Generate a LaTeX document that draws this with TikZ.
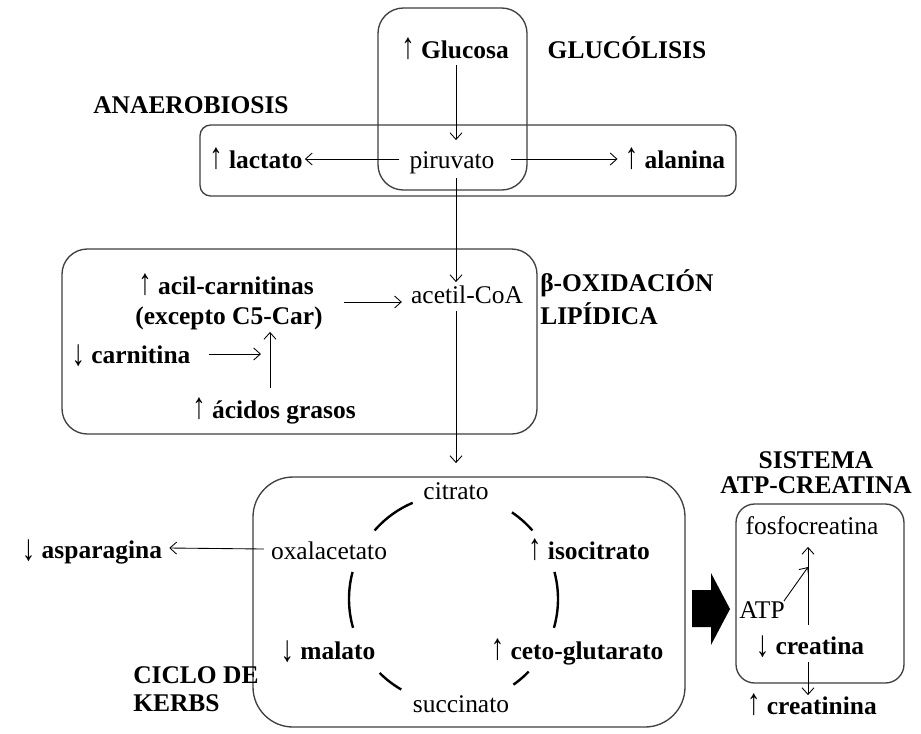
\documentclass[tikz,border=0pt]{standalone}
\usepackage{fontspec}
\usepackage{graphicx}
\setmainfont{Liberation Serif}
\usetikzlibrary{arrows.meta,calc}
\newcommand\upar{\scalebox{1.05}[1.45]{↑}}
\newcommand\dnar{\raisebox{-1.5pt}{\scalebox{1.05}[1.45]{↓}}}
\begin{document}
\begin{tikzpicture}[x=0.75pt,y=-0.75pt,
  every node/.style={font=\fontsize{19.1}{22}\selectfont, inner sep=0pt, text height=12.5pt, text depth=3.5pt},
  box/.style={draw=black!75, line width=1pt},
  arr/.style={draw=black, line width=0.65pt, -{Straight Barb[length=5pt,width=9pt]}},
  cyc/.style={line width=1.8pt},
]
\useasboundingbox[fill=white] (0,0) rectangle (921,733);

% boxes
\draw[box, rounded corners=19pt] (378,8) rectangle (527,190);
\draw[box, rounded corners=8pt] (200,125) rectangle (736,196);
\draw[box, rounded corners=19pt] (62,249) rectangle (537,434);
\draw[box, rounded corners=30pt] (253,477) rectangle (685,727);
\draw[box, rounded corners=14pt] (736,504) rectangle (904,683);

% labels
\node (glucolisis) at (627,52) {\textbf{GLUCÓLISIS}};
\node (anaerob) at (191,107) {\textbf{ANAEROBIOSIS}};
\node[anchor=west] (beta1) at (540,285) {\textbf{β-OXIDACIÓN}};
\node[anchor=west] (beta2) at (540,318) {\textbf{LIPÍDICA}};
\node[anchor=west] (ciclo1) at (133,677) {\textbf{CICLO DE}};
\node[anchor=west] (ciclo2) at (133,705) {\textbf{KERBS}};
\node (sistema) at (816,462) {\textbf{SISTEMA}};
\node (atpcre) at (816,487) {\textbf{ATP-CREATINA}};

% metabolites
\node (glucosa) at (455,52) {\upar\ \textbf{Glucosa}};
\node (piruvato) at (452,162) {piruvato};
\node (lactato) at (256,162) {\upar\ \textbf{lactato}};
\node (alanina) at (675,162) {\upar\ \textbf{alanina}};
\node (acetil) at (467,297) {acetil-CoA};
\node (acil) at (226,288) {\upar\ \textbf{acil-carnitinas}};
\node (excepto) at (229,318) {\textbf{(excepto C5-Car)}};
\node (carnitina) at (131,357) {\dnar\ \textbf{carnitina}};
\node (acidos) at (274,412) {\upar\ \textbf{ácidos grasos}};
\node[fill=white, inner xsep=15pt] (citrato) at (456,493) {citrato};
\node (oxal) at (329,553) {oxalacetato};
\node (isocitrato) at (589,553) {\upar\ \textbf{isocitrato}};
\node (malato) at (328,653) {\dnar\ \textbf{malato}};
\node (ceto) at (577,653) {\upar\ \textbf{ceto-glutarato}};
\node (succinato) at (461,706) {succinato};
\node (asparagina) at (92,552) {\dnar\ \textbf{asparagina}};
\node (fosfo) at (812,528) {fosfocreatina};
\node (atp) at (762,612) {ATP};
\node (creatina) at (810,648) {\dnar\ \textbf{creatina}};
\node (creatinina) at (812,708) {\upar\ \textbf{creatinina}};

% connectors
\draw[arr] ($(glucosa.south)+(1,2)$) -- ($(glucosa.south |- piruvato.north)+(1,-11)$);
\draw[arr] ($(piruvato.west)+(-10,-3)$) -- ($(lactato.east)+(2,-3)$);
\draw[arr] ($(piruvato.east)+(16,-3)$) -- ($(alanina.west)+(-7,-3)$);
\draw[arr] ($(piruvato.south -| glucosa.south)+(1,5)$) -- ($(acetil.north -| glucosa.south)+(1,-4)$);
\draw[arr] ($(acetil.south -| glucosa.south)+(1,3)$) -- ($(citrato.north -| glucosa.south)+(1,-19)$);
\draw[arr] ($(excepto.east |- acetil.west)+(21,5)$) -- ($(acetil.west)+(-9,5)$);
\draw[arr] ($(acidos.north)+(-4,-13)$) -- ($(acidos.north |- excepto.south)+(-4,3)$);
\draw[arr] ($(carnitina.east)+(18,-3)$) -- ($(carnitina.east -| acidos.north)+(-13,-3)$);
\draw[arr] ($(oxal.west)+(-7,-4)$) -- ($(asparagina.east)+(7,-4)$);
\draw[arr] ($(creatina.north)+(-2,-12)$) -- ($(creatina.north |- fosfo.south)+(-2,8)$);
\draw[arr] ($(atp.north east)+(-1,0)$) -- ($(creatina.north)+(-2,-70)$);
\draw[arr] ($(creatina.south)+(-2,3)$) -- ($(creatina.south |- creatinina.north)+(-2,-2)$);

% Krebs cycle arcs
\foreach \a/\b in {113/139, 165/196, 225/240, 305/316, -16/15, 41/56}
  \draw[cyc] plot[domain=\a:\b, samples=20, smooth] ({453.5+104.5*cos(\x)},{599-104.5*sin(\x)});

% big black arrow
\fill (692,590) -- (711,590) -- (711,573) -- (730,609) -- (711,645) -- (711,627) -- (692,627) -- cycle;
\end{tikzpicture}
\end{document}
